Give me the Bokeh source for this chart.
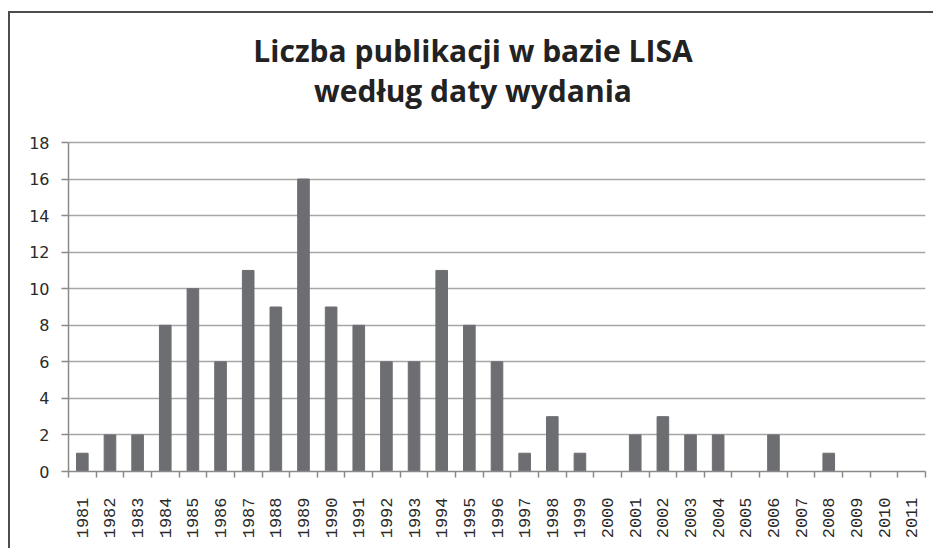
from bokeh.plotting import figure
from bokeh.models import Range1d, FixedTicker, Label
from bokeh.embed import file_html
from bokeh.resources import INLINE
import math

years = list(range(1981, 2012))
counts = [1, 2, 2, 8, 10, 6, 11, 9, 16, 9, 8, 6, 6, 11, 8, 6, 1, 3, 1, 0,
          2, 3, 2, 2, 0, 2, 0, 1, 0, 0, 0]
y_ticks = list(range(0, 20, 2))
title_lines = ["Liczba publikacji w bazie LISA", "według daty wydania"]

# layout geometry (pixels, canvas coordinates)
W, H = 925, 537
FL, FR, FT, FB = 58, 915, 0, 458          # frame left/right/top/bottom inside canvas
Y18 = 129                                 # pixel row of value 18
ppu = (FB - Y18) / 18.0
y_top = (FB - FT) / ppu
xppu = (FR - FL) / len(years)

p = figure(width=W, height=H, output_backend="svg", toolbar_location=None,
           x_range=Range1d(years[0] - 0.5, years[-1] + 0.5),
           y_range=Range1d(0, y_top),
           min_border_left=FL, min_border_right=W - FR,
           min_border_top=FT, min_border_bottom=H - FB)
p.styles = {"border-left": "2px solid #4d4d4d", "border-top": "2px solid #4d4d4d",
            "margin-top": "11px", "margin-left": "8px"}
p.outline_line_color = None
p.background_fill_color = "white"
p.border_fill_color = "white"

p.vbar(x=years, top=counts, width=0.42, color="#6d6e72")

xt = FixedTicker(ticks=years, minor_ticks=[y - 0.5 for y in years] + [years[-1] + 0.5])
p.xaxis.ticker = xt
p.xaxis.major_label_orientation = math.pi / 2
p.xaxis.major_tick_line_color = None
p.xaxis.major_tick_out = 0
p.xaxis.minor_tick_out = 6
p.xaxis.minor_tick_in = 0
p.xaxis.minor_tick_line_color = "#8a8a8a"
p.xaxis.minor_tick_line_width = 1.5
p.xaxis.axis_line_color = "#8a8a8a"
p.xaxis.axis_line_width = 1.5
p.xaxis.major_label_standoff = 20
p.xaxis.major_label_text_font = "Liberation Mono"
p.xaxis.major_label_text_font_size = "17px"
p.xaxis.major_label_text_color = "#2a2a2a"
p.xgrid.grid_line_color = None

p.yaxis.ticker = FixedTicker(ticks=y_ticks, minor_ticks=[])
p.yaxis.bounds = (0, 18)
p.yaxis.major_tick_out = 7
p.yaxis.major_tick_in = 0
p.yaxis.major_tick_line_color = "#8a8a8a"
p.yaxis.major_tick_line_width = 1.5
p.yaxis.axis_line_color = "#8a8a8a"
p.yaxis.axis_line_width = 1.5
p.yaxis.major_label_standoff = 12
p.yaxis.major_label_text_font = "DejaVu Sans"
p.yaxis.major_label_text_font_size = "16px"
p.yaxis.major_label_text_color = "#2a2a2a"
p.ygrid.grid_line_color = "#a6a6a6"
p.ygrid.grid_line_width = 1.5

# title centred on the whole chart box
x_mid = (years[0] - 0.5) + ((W / 2.0) - FL) / xppu
for txt, base_px in zip(title_lines, [37, 77]):
    p.add_layout(Label(x=x_mid, y=(FB - base_px) / ppu, text=txt,
                       text_align="center", text_baseline="alphabetic",
                       text_font="Open Sans", text_font_style="bold",
                       text_font_size="30px", text_color="#222222"))

open("out.html", "w").write(file_html(p, INLINE))
